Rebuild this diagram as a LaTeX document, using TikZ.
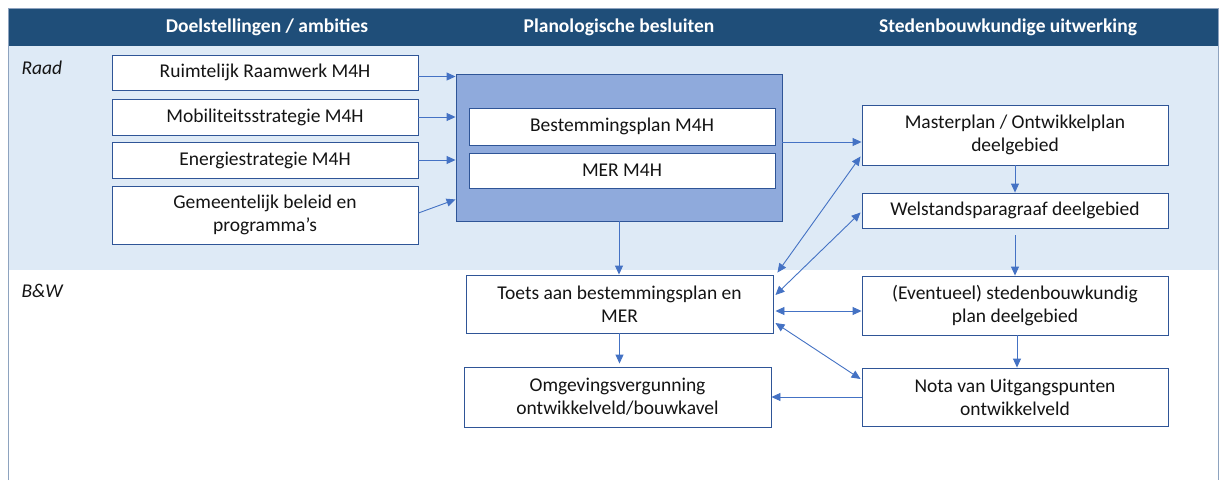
\documentclass[tikz,border=0pt]{standalone}
\usepackage{fontspec}
\setmainfont{Carlito}
\usetikzlibrary{arrows.meta}
\definecolor{hdr}{HTML}{1F4E79}
\definecolor{band}{HTML}{DEEAF6}
\definecolor{bigfill}{HTML}{8FAADC}
\definecolor{bdr}{HTML}{2F5597}
\definecolor{arrc}{HTML}{4472C4}
\definecolor{frame}{HTML}{8EA3BF}
\definecolor{txt}{HTML}{141414}
\begin{document}
\begin{tikzpicture}[x=1pt,y=-1pt,
  box/.style={draw=bdr, fill=white, line width=0.9pt, inner sep=0pt, align=center,
    text=txt, font=\fontsize{19.5}{23}\selectfont},
  bigbox/.style={draw=bdr, fill=bigfill, line width=0.9pt, inner sep=0pt},
  hdrtext/.style={text=white, font=\bfseries\fontsize{19.5}{23}\selectfont},
  lane/.style={text=txt, font=\itshape\fontsize{19.5}{23}\selectfont, anchor=west},
  arr/.style={draw=arrc, line width=0.9pt, -{Triangle[length=9pt,width=8pt]}},
  darr/.style={draw=arrc, line width=0.9pt, {Triangle[length=9pt,width=8pt]}-{Triangle[length=9pt,width=8pt]}}]
\useasboundingbox (0,0) rectangle (1224,480);
\fill[white] (0,0) rectangle (1224,480);
% lanes
\fill[band] (8,46) rectangle (1218,270);
\fill[hdr] (8,8) rectangle (1218,46);
\draw[frame, line width=1pt] (8,480) -- (8,8) -- (1218,8) -- (1218,480);
% header texts
\node[hdrtext] (h1) at (267,27) {Doelstellingen / ambities};
\node[hdrtext] (h2) at (619,27) {Planologische besluiten};
\node[hdrtext] (h3) at (1008,27) {Stedenbouwkundige uitwerking};
\node[lane] (raad) at (18,68) {Raad};
\node[lane] (bw) at (18,291) {B\&W};
% left column
\node[box, minimum width=306pt, minimum height=35pt] (r1) at (265,72.5) {Ruimtelijk Raamwerk M4H};
\node[box, minimum width=306pt, minimum height=36pt] (r2) at (265,117) {Mobiliteitsstrategie M4H};
\node[box, minimum width=306pt, minimum height=36pt] (r3) at (265,160) {Energiestrategie M4H};
\node[box, minimum width=306pt, minimum height=58pt] (r4) at (265,215) {Gemeentelijk beleid en\\programma’s};
% big box
\node[bigbox, minimum width=326pt, minimum height=147pt] (big) at (619,147.5) {};
\node[box, minimum width=306pt, minimum height=37pt] (bp) at (622,126.5) {Bestemmingsplan M4H};
\node[box, minimum width=306pt, minimum height=35pt] (mer) at (622,170.5) {MER M4H};
% right column
\node[box, minimum width=306pt, minimum height=60pt] (ms) at (1015,135) {Masterplan / Ontwikkelplan\\deelgebied};
\node[box, minimum width=306pt, minimum height=35pt] (wp) at (1015,210.5) {Welstandsparagraaf deelgebied};
\node[box, minimum width=306pt, minimum height=59pt] (ev) at (1015,305.5) {(Eventueel) stedenbouwkundig\\plan deelgebied};
\node[box, minimum width=306pt, minimum height=58pt] (nota) at (1015,397) {Nota van Uitgangspunten\\ontwikkelveld};
% middle bottom
\node[box, minimum width=307pt, minimum height=58pt] (toets) at (619.5,304) {Toets aan bestemmingsplan en\\MER};
\node[box, minimum width=307pt, minimum height=60pt] (omg) at (617.5,397) {Omgevingsvergunning\\ontwikkelveld/bouwkavel};
% arrows left -> big
\draw[arr] ([yshift=-4pt]r1.east) -- ([yshift=-4pt]r1.east -| big.west);
\draw[arr] (r2.east) -- (r2.east -| big.west);
\draw[arr] (r3.east) -- (r3.east -| big.west);
\draw[arr] ([yshift=2pt]r4.east) -- ([yshift=22pt]big.south west);
% big -> masterplan
\draw[arr] ([yshift=-7pt]ms.west -| big.east) -- ([yshift=-7pt]ms.west);
% right column chain
\draw[arr] (ms.south) -- (wp.north);
\draw[arr] ([yshift=-7pt]wp.south) -- (ev.north);
\draw[arr] ([xshift=2pt]ev.south) -- ([xshift=2pt]nota.north);
\draw[arr] (nota.west) -- (omg.east);
% middle chain
\draw[arr] (big.south) -- (big.south |- toets.north);
\draw[arr] (toets.south) -- ([yshift=3pt]toets.south |- omg.north);
% double arrows
\draw[darr] ([shift={(4pt,2pt)}]toets.north east) -- ([shift={(-1pt,9pt)}]ms.south west);
\draw[darr] ([shift={(2pt,9pt)}]toets.east) -- ([shift={(-1pt,-2pt)}]wp.west);
\draw[darr] ([shift={(2pt,-7pt)}]toets.east) -- ([yshift=-7pt]toets.east -| ev.west);
\draw[darr] ([shift={(2pt,-19pt)}]toets.east) -- ([shift={(-1pt,18pt)}]nota.west);
\end{tikzpicture}
\end{document}
